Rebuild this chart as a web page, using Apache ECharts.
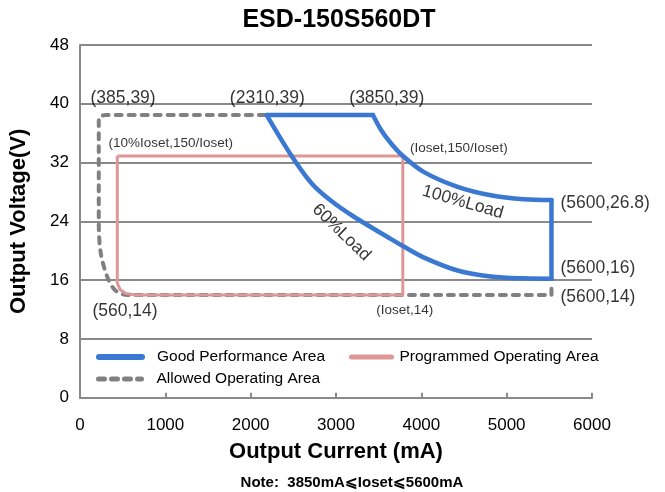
<!DOCTYPE html>
<html>
<head>
<meta charset="utf-8">
<script src="https://cdn.jsdelivr.net/npm/echarts@6/dist/echarts.min.js"></script>
<style>html,body{margin:0;padding:0;background:#fff}#c{width:665px;height:492px}</style>
</head>
<body>
<div id="c"></div>
<script>
// ---- data ----
var titleText = 'ESD-150S560DT';
var noteText = 'Note:  3850mA\u2A7DIoset\u2A7D5600mA';
var xTicks = [0, 1000, 2000, 3000, 4000, 5000, 6000];
var yTicks = [0, 8, 16, 24, 32, 40, 48];
var seriesNames = ['Good Performance Area', 'Programmed Operating Area', 'Allowed Operating Area'];

// Good performance area (blue)
var goodTop = [[2188, 38.46], [3433, 38.46]];
var goodCurve100 = [[3433, 38.46], [3530, 36.4], [3646, 34.6], [3775, 33.0], [4032, 30.7], [4425, 28.7], [4813, 27.55], [5198, 27.0], [5525, 26.9]];
var goodRight = [[5525, 26.9], [5525, 16.2]];
var goodCurve60 = [[2188, 38.46], [2480, 32.9], [2713, 29.2], [2946, 26.76], [3215, 24.59], [3646, 21.59], [3783, 20.64], [4032, 19.07], [4425, 17.31], [4813, 16.49], [5198, 16.24], [5525, 16.2]];

// Programmed operating area (pink)
var programmed = [[437, 32.9], [3783, 32.9], [3783, 13.97], [650, 13.97], [534, 14.2], [470, 14.7], [437, 15.6], [437, 32.9]];

// Allowed operating area (grey dashed)
var allowed = [[2165, 38.46], [300, 38.46], [222, 38.1], [220, 37.4], [220, 23.8], [243, 19.7], [321, 16.4], [414, 14.6], [554, 13.97], [5525, 13.97], [5525, 15.3]];

// annotations (text, data x, data y)
var annoText = ['(385,39)', '(2310,39)', '(3850,39)', '(10%Ioset,150/Ioset)', '(Ioset,150/Ioset)', '(5600,26.8)', '(5600,16)', '(5600,14)', '(560,14)', '(Ioset,14)', '100%Load', '60%Load'];
var annoX = [123, 1756, 3156, 333, 3868, 5630, 5630, 5630, 146, 3471, 4486, 3063];
var annoY = [40.8, 40.8, 40.8, 34.65, 34.0, 26.5, 17.65, 13.7, 11.8, 11.9, 26.6, 22.5];
var annoSmall = [3, 4, 9];
var annoRotate = {10: -16, 11: -44};

// ---- chart ----
var FONT = '"Liberation Sans", Arial, sans-serif';
var BLUE = '#3A78D2', PINK = '#DE9696', GREY = '#808080';

var annoData = annoText.map(function (t, i) {
  var small = annoSmall.indexOf(i) >= 0;
  var rot = annoRotate[i];
  var lab = {
    show: true,
    formatter: t,
    fontFamily: FONT,
    fontSize: small ? 13.5 : 17.5,
    color: '#000'
  };
  if (rot !== undefined) {
    lab.position = 'inside';
    lab.rotate = rot;
    lab.align = 'center';
    lab.verticalAlign = 'middle';
  } else {
    lab.position = 'right';
    lab.distance = 0;
  }
  return { value: [annoX[i], annoY[i]], label: lab };
});

function blueSeries(data, smooth) {
  return {
    name: seriesNames[0], type: 'line', data: data, showSymbol: false, symbol: 'none',
    smooth: smooth, lineStyle: { color: BLUE, width: 4.5, cap: 'round', join: 'round' },
    itemStyle: { color: BLUE }, silent: true, z: 4
  };
}

function legendItem(name, left, top, w, pad, lw) {
  return {
    data: [name], left: left, top: top, itemWidth: w, itemHeight: 6,
    itemStyle: { opacity: 0, borderWidth: 0 },
    lineStyle: { width: lw, cap: 'round' },
    textStyle: { fontFamily: FONT, fontSize: 15.5, color: '#000', padding: [0, 0, 0, pad] }
  };
}

var chart = echarts.init(document.getElementById('c'));
chart.setOption({
  animation: false,
  title: [
    { text: titleText, left: 334, textAlign: 'center', top: 3, textStyle: { fontFamily: FONT, fontWeight: 'bold', fontSize: 25, color: '#000' } },
    { text: noteText, left: 347, textAlign: 'center', top: 470, textStyle: { fontFamily: FONT, fontWeight: 'bold', fontSize: 15, color: '#000' } }
  ],
  grid: { left: 77.5, right: 73, top: 45, bottom: 94.3, containLabel: false },
  legend: [
    legendItem(seriesNames[0], 91, 344, 43, 10, 6),
    legendItem(seriesNames[1], 344, 344, 40, 3, 5),
    legendItem(seriesNames[2], 91, 366, 43, 10, 5)
  ],
  xAxis: {
    type: 'value', min: xTicks[0], max: xTicks[xTicks.length - 1], interval: 1000,
    name: 'Output Current (mA)', nameLocation: 'middle', nameGap: 43,
    nameTextStyle: { fontFamily: FONT, fontWeight: 'bold', fontSize: 22, color: '#000' },
    axisLine: { show: true, lineStyle: { color: '#8a8a8a', width: 2 } },
    axisTick: { show: true, inside: true, length: 5, lineStyle: { color: '#8a8a8a', width: 2 } },
    axisLabel: { fontFamily: FONT, fontSize: 17, color: '#000', margin: 19, formatter: function (v) { return String(v); } },
    splitLine: { show: false }
  },
  yAxis: {
    type: 'value', min: yTicks[0], max: yTicks[yTicks.length - 1], interval: 8,
    name: 'Output Voltage(V)', nameLocation: 'middle', nameGap: 50,
    nameTextStyle: { fontFamily: FONT, fontWeight: 'bold', fontSize: 22, color: '#000' },
    axisLine: { show: true, lineStyle: { color: '#8a8a8a', width: 2 } },
    axisTick: { show: false },
    axisLabel: { fontFamily: FONT, fontSize: 17, color: '#000', margin: 11 },
    splitLine: { show: true, lineStyle: { color: '#8a8a8a', width: 2 } }
  },
  series: [
    blueSeries(goodTop, false),
    blueSeries(goodCurve100, 0.35),
    blueSeries(goodRight, false),
    blueSeries(goodCurve60, 0.35),
    {
      name: seriesNames[1], type: 'line', data: programmed, showSymbol: false, symbol: 'none',
      lineStyle: { color: PINK, width: 3, join: 'round' }, itemStyle: { color: PINK }, silent: true, z: 3
    },
    {
      name: seriesNames[2], type: 'line', data: allowed, showSymbol: false, symbol: 'none', smooth: 0.3,
      lineStyle: { color: GREY, width: 4, type: [6, 7], cap: 'round', join: 'round' }, itemStyle: { color: GREY }, silent: true, z: 2
    },
    {
      type: 'scatter', data: annoData, symbolSize: 0, silent: true, z: 6
    }
  ]
});
</script>
</body>
</html>
